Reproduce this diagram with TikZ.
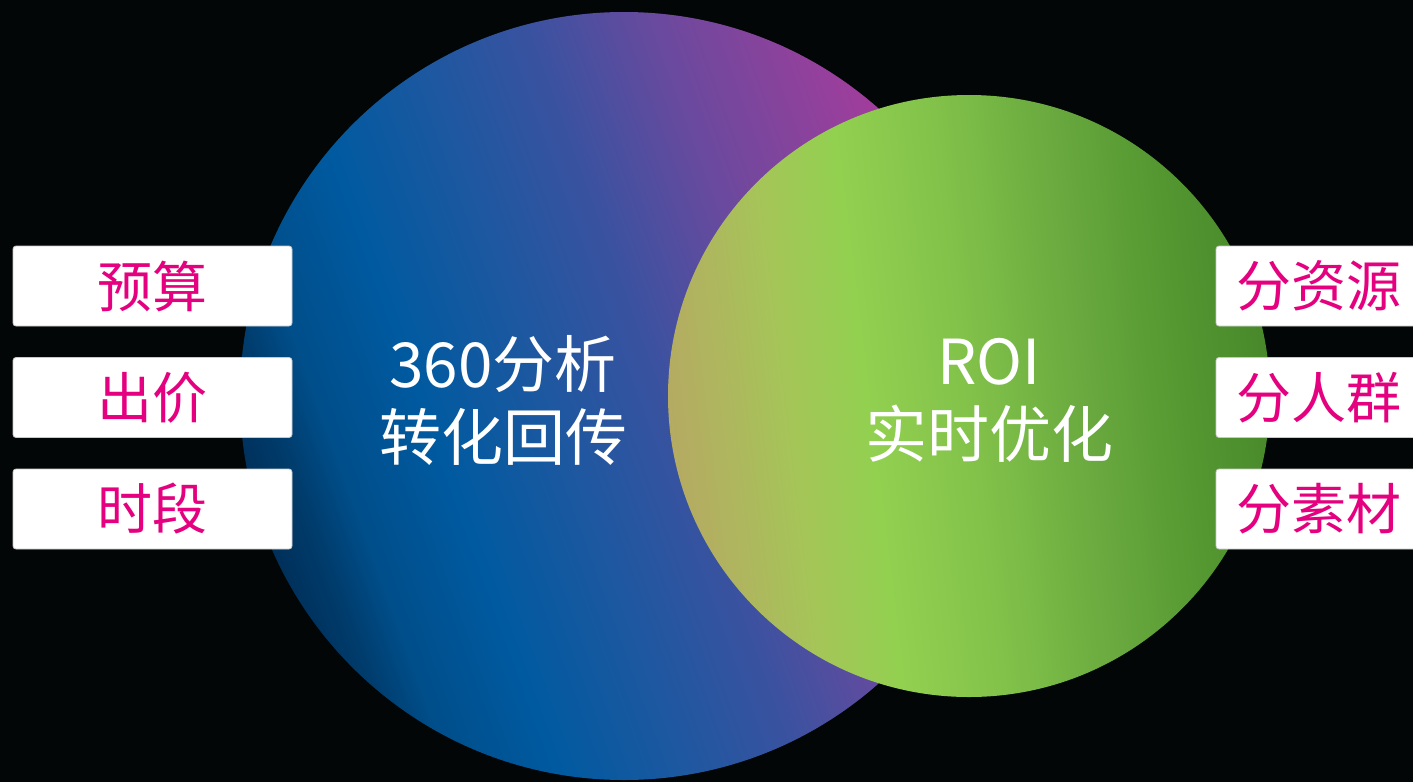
\documentclass[tikz,border=0pt]{standalone}
\usepackage{fontspec}
\setmainfont{Noto Sans CJK SC}
\definecolor{bgc}{HTML}{030606}
\definecolor{pinkc}{HTML}{E4007F}
\definecolor{boxedge}{HTML}{C8C8C8}
\definecolor{bA}{HTML}{00305A}
\definecolor{bB}{HTML}{003C6C}
\definecolor{bC}{HTML}{004E8A}
\definecolor{bD}{HTML}{005AA0}
\definecolor{bE}{HTML}{1C58A0}
\definecolor{bF}{HTML}{3A52A0}
\definecolor{bG}{HTML}{684A9E}
\definecolor{bH}{HTML}{8C429C}
\definecolor{bI}{HTML}{B0399C}
\definecolor{gA}{HTML}{B5AA62}
\definecolor{gB}{HTML}{AEB75E}
\definecolor{gC}{HTML}{A5C558}
\definecolor{gD}{HTML}{92D050}
\definecolor{gE}{HTML}{82C24A}
\definecolor{gF}{HTML}{68A83E}
\definecolor{gG}{HTML}{559831}
\definecolor{gH}{HTML}{48882B}
\pgfdeclarehorizontalshading{blueball}{100bp}{color(0bp)=(bA); color(25bp)=(bA); color(28bp)=(bB); color(31bp)=(bC); color(37.5bp)=(bD); color(45bp)=(bE); color(52.5bp)=(bF); color(60bp)=(bG); color(67.5bp)=(bH); color(75bp)=(bI); color(100bp)=(bI)}
\pgfdeclarehorizontalshading{greenball}{100bp}{color(0bp)=(gA); color(25bp)=(gA); color(30bp)=(gB); color(35bp)=(gC); color(41.5bp)=(gD); color(50bp)=(gE); color(60bp)=(gF); color(67.5bp)=(gG); color(75bp)=(gH); color(100bp)=(gH)}
\tikzset{
  lbox/.style={rectangle, rounded corners=3pt, fill=white, draw=boxedge, line width=0.8pt,
    minimum height=80pt, inner sep=0pt, text=pinkc, font=\fontsize{55}{60}\selectfont},
  ctext/.style={align=center, text=white, inner sep=0pt, font=\fontsize{62}{73}\selectfont},
  ball/.style={circle, inner sep=0pt, shade}
}
\begin{document}
\begin{tikzpicture}[x=1pt,y=-1pt]
\useasboundingbox (0,0) rectangle (1413,782);
\clip (0,0) rectangle (1413,782);
\fill[bgc] (0,0) rectangle (1413,782);
\node[ball, minimum size=768pt, shading=blueball, shading angle=20] (blue) at (624,396) {};
\node[ball, minimum size=602pt, shading=greenball, shading angle=7] (green) at (969,396) {};
\node[ctext] (ltext) at (503,400) {360分析\\转化回传};
\node[ctext] (rtext) at (989,400) {ROI\\实时优化};
\node[lbox, minimum width=279pt] (l1) at (152.5,286) {预算};
\node[lbox, minimum width=279pt] (l2) at (152.5,397.5) {出价};
\node[lbox, minimum width=279pt] (l3) at (152.5,509) {时段};
\node[lbox, minimum width=206pt] (r1) at (1319,286) {分资源};
\node[lbox, minimum width=206pt] (r2) at (1319,397.5) {分人群};
\node[lbox, minimum width=206pt] (r3) at (1319,509) {分素材};
\end{tikzpicture}
\end{document}
